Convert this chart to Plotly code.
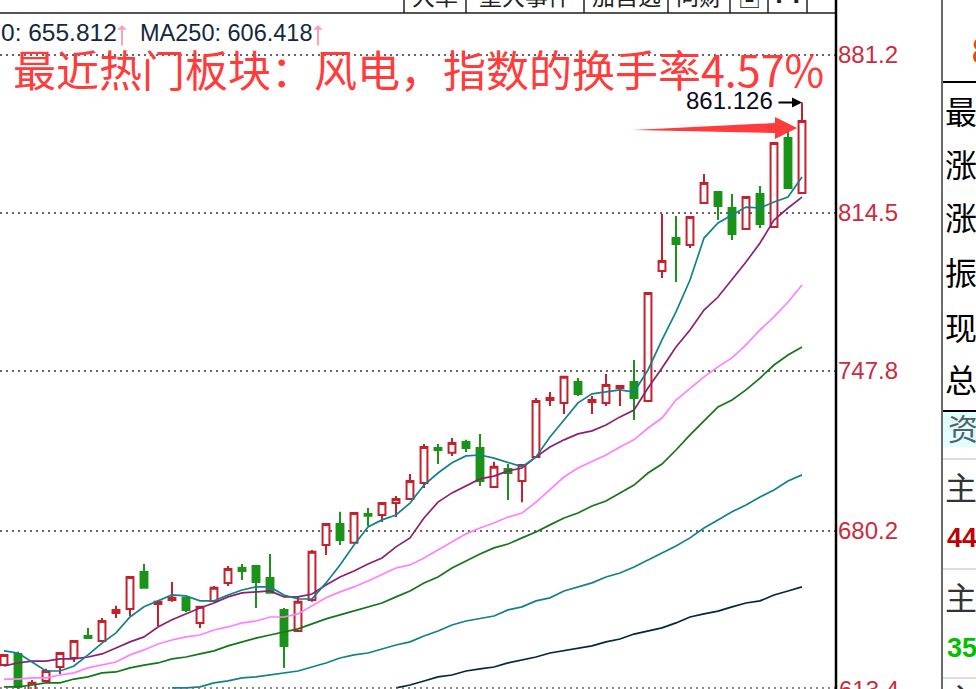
import plotly.graph_objects as go

W, H = 976, 689

bars = list(range(58))
open_ = [623.6,628.3,613.1,616.9,622.8,626.6,635.9,633.8,645.6,647.3,662.9,649.4,651.1,652.0,641.4,650.7,658.3,664.6,665.4,660.4,
         646.9,638.0,651.1,674.3,683.2,675.2,687.4,687.0,692.0,693.7,700.5,715.3,713.2,717.8,715.3,698.8,706.4,701.3,711.5,735.5,
         734.3,743.1,734.7,734.3,740.6,743.1,735.1,790.0,803.9,801.0,818.7,823.4,816.6,807.7,822.5,808.6,846.2,822.9]
high_ = [627.9,629.2,617.3,622.0,628.7,633.8,639.3,643.5,648.6,660.8,666.3,650.3,658.7,652.0,648.2,657.0,665.4,666.3,665.4,670.5,
         647.7,652.4,672.2,683.2,688.3,687.8,689.9,692.0,695.0,704.3,717.0,717.0,719.5,718.7,721.2,709.4,708.5,708.1,736.4,738.9,
         745.3,744.8,737.2,746.5,741.4,752.4,780.7,814.1,813.2,812.8,830.9,823.4,822.5,821.2,825.9,844.0,848.7,861.126]
low_ = [623.6,613.5,613.1,616.5,619.8,624.9,635.0,633.4,643.5,644.3,656.2,640.1,650.3,646.0,639.3,650.7,657.0,659.5,647.7,654.1,
        622.4,638.0,650.3,670.1,674.3,675.2,682.3,684.0,686.1,693.7,698.4,708.5,711.9,713.6,699.2,698.8,693.3,692.4,711.5,733.0,
        729.6,737.2,729.6,733.0,733.0,727.1,735.1,787.0,785.4,799.7,818.7,811.5,803.1,807.7,808.2,808.6,825.0,822.9]
close_ = [627.9,614.4,616.1,621.1,628.7,633.8,635.0,642.2,646.9,660.8,656.2,650.3,652.0,646.9,648.2,656.2,664.2,663.3,658.7,654.1,
          631.7,650.3,671.4,683.2,676.4,687.8,686.6,692.0,693.7,701.3,715.7,714.4,717.4,715.3,701.3,707.3,704.7,708.1,735.1,736.4,
          745.3,738.1,735.5,741.9,741.4,736.4,780.7,794.2,801.4,812.8,827.2,817.4,805.6,821.2,809.8,844.0,825.0,853.3]

ma5 = [629.6,628.7,624.9,621.1,621.1,623.2,627.9,632.9,637.2,643.9,648.2,650.7,653.2,652.8,650.7,650.7,653.2,655.3,656.6,656.6,
       653.2,651.5,651.5,658.3,665.9,674.3,681.9,684.9,687.0,692.0,699.6,704.7,709.0,711.9,712.3,711.0,709.0,707.3,711.5,719.9,
       727.1,734.3,738.1,738.9,739.8,738.9,748.2,760.9,772.7,786.2,803.9,810.3,813.7,817.0,816.6,819.1,821.2,829.7]
ma10 = [623.2,624.5,625.3,625.3,626.2,626.2,627.0,628.3,630.8,633.4,635.5,639.7,642.7,645.2,647.7,649.8,652.4,654.1,654.5,654.9,
        652.4,652.4,653.6,657.4,660.8,663.3,666.3,668.8,673.5,677.3,685.7,692.4,696.3,699.2,702.2,703.4,705.6,706.8,711.5,715.7,
        718.7,721.2,722.5,725.0,728.4,731.3,740.6,749.0,757.9,765.1,773.5,779.0,786.2,793.8,801.8,811.5,816.6,821.2]
ma20 = [617.7,617.7,618.2,618.2,619.4,620.3,622.4,623.6,624.9,627.9,630.0,632.5,634.2,635.5,636.3,638.4,639.7,641.4,642.2,643.9,
        643.9,645.2,648.6,652.0,654.5,656.6,659.1,661.7,664.6,665.9,668.8,672.2,675.6,679.0,681.5,683.6,686.1,687.8,692.4,697.5,
        703.0,706.8,709.4,712.3,715.7,718.7,723.7,727.9,735.5,740.6,745.3,749.5,753.3,758.8,765.1,770.6,776.9,784.1]
ma30 = [614.4,614.4,615.2,616.1,616.1,617.7,618.6,620.3,620.7,622.4,623.6,624.5,626.2,627.0,628.3,629.6,631.7,633.4,635.0,636.3,
        637.6,638.9,641.0,643.1,644.8,646.4,648.2,649.8,652.4,654.9,658.3,660.8,664.6,667.6,670.5,673.1,674.7,677.3,679.8,682.8,
        685.7,687.8,690.8,692.9,696.3,699.6,704.7,708.5,714.4,720.8,726.7,732.6,735.5,739.8,744.8,750.3,754.5,757.9]
ma60 = [None,None,None,None,None,None,None,None,None,None,None,None,
        614.0,614.0,614.4,616.1,616.9,618.2,618.6,619.4,620.3,621.1,622.8,624.5,626.6,627.9,628.7,630.4,632.1,633.4,635.9,638.0,
        640.5,642.2,643.1,644.3,646.9,648.2,650.7,652.0,654.9,656.6,658.3,660.8,662.5,665.0,668.0,670.9,673.9,677.3,681.5,684.9,
        688.3,691.2,694.6,697.5,701.3,703.9]
ma120 = [None,None,None,None,None,None,None,None,None,None,None,None,None,None,None,None,None,None,None,None,None,None,None,None,None,None,None,None,
         614.0,615.2,616.9,618.6,619.4,621.1,622.0,622.8,624.5,625.8,627.0,628.7,629.6,630.8,631.7,633.4,634.6,636.7,638.0,639.3,
         641.4,643.9,645.2,646.4,648.2,649.8,650.7,653.2,654.9,656.6]

tick_values = [881.2, 814.5, 747.8, 680.2]
tick_labels = ["881.2", "814.5", "747.8", "680.2"]
bottom_label = "613.4"
headline = "最近热门板块：风电，指数的换手率4.57%"
high_label = "861.126"
panel_rows = ["最", "涨", "涨", "振", "现", "总"]

RED, GREEN = "#c4212d", "#1a9418"
SANS, CJK = "Liberation Sans", "Noto Sans CJK SC"
TICK_RED = "#cc2b3d"

def px(x):
    return x / W

def py(y):
    return 1 - y / H

fig = go.Figure()
fig.add_trace(go.Candlestick(
    x=bars, open=open_, high=high_, low=low_, close=close_, whiskerwidth=0,
    increasing=dict(line=dict(color=RED, width=2), fillcolor="white"),
    decreasing=dict(line=dict(color=GREEN, width=2), fillcolor=GREEN),
    hoverinfo="skip", showlegend=False))

for values, color in [(ma120, "#02293b"), (ma60, "#12808e"), (ma30, "#14751a"),
                      (ma20, "#ff80ff"), (ma10, "#8a2172"), (ma5, "#12808e")]:
    fig.add_trace(go.Scatter(x=bars, y=values, mode="lines", showlegend=False, hoverinfo="skip",
                             line=dict(color=color, width=1.7)))

annotations = []

def note(text, x, y, size, color="#000000", family=SANS, anchor="left", bold=False):
    annotations.append(dict(text=f"<b>{text}</b>" if bold else text, x=px(x), y=py(y), xref="paper", yref="paper",
                            xanchor=anchor, yanchor="middle", showarrow=False,
                            font=dict(family=family, size=size, color=color)))

note(headline, 11, 68, 43, "#ff3b3b", CJK)
note("0: 655.812", 119, 33, 24.5, "#14283c", anchor="right")
note("MA250: 606.418", 314, 33, 23.5, "#14283c", anchor="right")

for head_x in (122, 318):
    annotations.append(dict(text="", x=px(head_x), y=py(25), ax=0, ay=22,
                            xref="paper", yref="paper", axref="pixel", ayref="pixel",
                            showarrow=True, arrowhead=1, arrowsize=0.8, arrowwidth=2, arrowcolor="#ff9fb8"))

annotations.append(dict(text=high_label, x=57, y=high_[57], xref="x", yref="y", xanchor="right", yanchor="middle",
                        xshift=-27, yshift=2, showarrow=False, font=dict(family=SANS, size=24, color="#0a0a1e")))
annotations.append(dict(text="", x=57, y=high_[57], xref="x", yref="y", ax=-25, ay=0, axref="pixel", ayref="pixel",
                        showarrow=True, arrowhead=2, arrowsize=1, arrowwidth=2, arrowcolor="#000000"))

note(bottom_label, 837, 689, 24, TICK_RED)

# clipped toolbar captions along the top edge
for text, x in [("大单", 435), ("重大事件", 525), ("加自选", 626), ("问财", 699)]:
    note(text, x, -5, 23, "#222222", CJK, "center")
note("▣", 749, -3, 23, "#222222", CJK, "center")
note("▪ ▪", 787, 0, 14, "#222222", CJK, "center")

# side panel, cut off by the window's right edge
for text, y in zip(panel_rows, [110, 163, 216, 271, 326, 378]):
    note(text, 943, y, 32, "#000000", CJK)
note("8", 970, 51, 36, "#e04a1a", SANS, bold=True)
note("资", 946, 427, 30, "#556066", CJK)
note("主", 943, 486, 32, "#333333", CJK)
note("44", 945, 538, 27, "#c00000", SANS, bold=True)
note("主", 943, 596, 32, "#333333", CJK)
note("35", 945, 648, 27, "#00c000", SANS, bold=True)
note("主", 943, 698, 32, "#333333", CJK)

shapes = []

def seg(x0, y0, x1, y1, color, width, dash="solid"):
    shapes.append(dict(type="line", xref="paper", yref="paper", x0=px(x0), y0=py(y0), x1=px(x1), y1=py(y1),
                       line=dict(color=color, width=width, dash=dash), layer="above"))

seg(0, 13, 836, 13, "#555555", 2)
seg(0, 688, 835, 688, "#666666", 1.5, "2px,4px")
for x in (404, 466, 584, 668, 730, 768, 807):
    seg(x, 0, x, 13, "#222222", 1.5)
seg(836, 0, 836, 689, "#000000", 2.5)
seg(942, 0, 942, 689, "#6a6a6a", 2)
seg(943, 82, 976, 82, "#000000", 2)
seg(943, 411, 976, 411, "#000000", 2)
for y in (459, 569, 678):
    seg(943, y, 976, y, "#dddddd", 2)
shapes.append(dict(type="rect", xref="paper", yref="paper", x0=px(943), x1=px(976), y0=py(447), y1=py(412),
                   fillcolor="#e0fdff", line=dict(width=0), layer="below"))

# the hand-drawn red pointer of the headline note
points = [(633, 130), (775, 123), (775, 117), (797, 128), (775, 139), (775, 133)]
path = "M " + " L ".join(f"{px(a):.5f},{py(b):.5f}" for a, b in points) + " Z"
shapes.append(dict(type="path", xref="paper", yref="paper", path=path, fillcolor="#ff3b3b",
                   line=dict(width=0), layer="above"))

fig.update_layout(
    width=W, height=H, margin=dict(l=0, r=0, t=0, b=0), autosize=False,
    paper_bgcolor="white", plot_bgcolor="white", showlegend=False, boxgap=0.3,
    annotations=annotations, shapes=shapes,
    xaxis=dict(domain=[0, 835 / W], range=[-4 / 14, 831 / 14], visible=False, rangeslider=dict(visible=False)),
    yaxis=dict(domain=[0, 1 - 13 / H], range=[613.5, 898.93], side="right", tickmode="array",
               tickvals=tick_values, ticktext=tick_labels, ticks="", showline=False, zeroline=False,
               showgrid=True, gridcolor="#666666", gridwidth=1.5, griddash="2px,4px",
               tickfont=dict(family=SANS, size=24, color=TICK_RED), ticklabelstandoff=2),
)

fig.write_html("out.html", config=dict(displayModeBar=False),
               post_script="document.body.style.margin='0';document.body.style.overflow='hidden';")
